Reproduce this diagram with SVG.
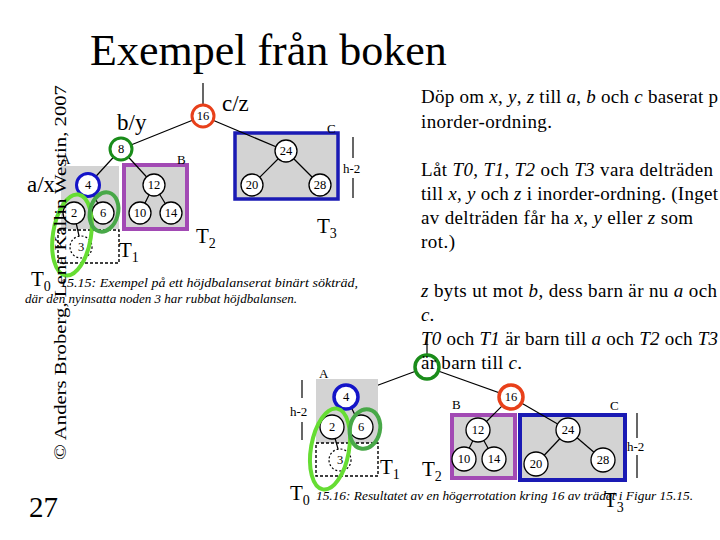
<svg xmlns="http://www.w3.org/2000/svg" width="720" height="540" viewBox="0 0 720 540">
<style>
.t{font-family:"Liberation Serif","Times New Roman",serif;fill:#000}
.n{font-family:"Liberation Serif","Times New Roman",serif;font-size:12.5px;text-anchor:middle;dominant-baseline:central}
.nd{fill:#fff;stroke:#000;stroke-width:1.3}
.box{fill:#d3d3d3;stroke:none}
.pbox{fill:#d3d3d3;stroke:#a24ab4;stroke-width:4}
.bbox{fill:#d3d3d3;stroke:#1a1ab4;stroke-width:4}
.e{stroke:#000;stroke-width:1.2;fill:none}
.dash{fill:none;stroke:#000;stroke-width:1.4;stroke-dasharray:3 2}
.cap{font-family:"Liberation Serif","Times New Roman",serif;font-style:italic;font-size:12.5px}
.body{font-family:"Liberation Serif","Times New Roman",serif;font-size:19px}
.i{font-style:italic}
.lab{font-family:"Liberation Serif","Times New Roman",serif;font-size:23px}
.T{font-family:"Liberation Serif","Times New Roman",serif;font-size:21px}
.sm{font-family:"Liberation Serif","Times New Roman",serif;font-size:13px}
</style>
<rect width="720" height="540" fill="#fff"/>
<text class="t" x="90" y="65" font-size="44">Exempel från boken</text>

<!-- upper figure boxes -->
<g id="upper-boxes">
<rect class="box" x="61" y="166" width="58" height="63"/>
<rect class="dash" x="58" y="230" width="61" height="33"/>
<rect class="pbox" x="124" y="165" width="63" height="64"/>
<rect class="bbox" x="235" y="133" width="103" height="66" style="stroke-width:3.5"/>
<text class="sm" x="61" y="164" font-size="12">A</text>
<text class="sm" x="177" y="164" font-size="12">B</text>
<text class="sm" x="327" y="133" font-size="14">C</text>
<text class="sm" x="343" y="173" font-size="14">h-2</text>
<line class="e" x1="353" y1="137" x2="353" y2="158" stroke-width="1"/>
<line class="e" x1="353" y1="178" x2="353" y2="198" stroke-width="1"/>
</g>

<g id="connectors">
<line class="e" x1="203" y1="83" x2="203" y2="105"/>
<line class="e" x1="203" y1="116" x2="121" y2="149"/>
<line class="e" x1="203" y1="116" x2="286" y2="151"/>
<line class="e" x1="121" y1="149" x2="88" y2="185"/>
<line class="e" x1="121" y1="149" x2="154" y2="185"/>
<line class="e" x1="88" y1="185" x2="103" y2="213"/>
<line class="e" x1="74" y1="213" x2="79" y2="236"/>
<line class="e" x1="154" y1="185" x2="140" y2="213"/>
<line class="e" x1="154" y1="185" x2="171" y2="213"/>
<line class="e" x1="286" y1="151" x2="252" y2="185"/>
<line class="e" x1="286" y1="151" x2="320" y2="185"/>
<!-- lower -->
<line class="e" x1="427" y1="335" x2="427" y2="355"/>
<line class="e" x1="427" y1="367" x2="346" y2="397"/>
<line class="e" x1="427" y1="367" x2="511" y2="397"/>
<line class="e" x1="346" y1="397" x2="332" y2="427"/>
</g>

<!-- upper nodes -->
<g id="u16"><circle cx="203" cy="116" r="11" fill="#fff" stroke="#e8401a" stroke-width="3"/><text class="n" x="203" y="116">16</text></g>
<g id="u8"><circle cx="121" cy="149" r="11" fill="#fff" stroke="#1a8c1a" stroke-width="3"/><text class="n" x="121" y="149">8</text></g>
<g id="u4"><circle cx="88" cy="185" r="11.5" fill="#fff" stroke="#1414c8" stroke-width="3"/><text class="n" x="88" y="185">4</text></g>
<g id="u2"><circle class="nd" cx="74" cy="213" r="11"/><text class="n" x="74" y="213">2</text></g>
<g id="u6"><circle class="nd" cx="103" cy="213" r="11"/><text class="n" x="103" y="213">6</text></g>
<g id="u3"><circle cx="81" cy="247" r="11" fill="none" stroke="#000" stroke-width="1.2" stroke-dasharray="2 2"/><text class="n" x="81" y="247">3</text></g>
<g id="u12"><circle class="nd" cx="154" cy="185" r="11"/><text class="n" x="154" y="185">12</text></g>
<g id="u10"><circle class="nd" cx="140" cy="213" r="11"/><text class="n" x="140" y="213">10</text></g>
<g id="u14"><circle class="nd" cx="171" cy="213" r="11"/><text class="n" x="171" y="213">14</text></g>
<g id="u24"><circle class="nd" cx="286" cy="151" r="11"/><text class="n" x="286" y="151">24</text></g>
<g id="u20"><circle class="nd" cx="252" cy="185" r="11"/><text class="n" x="252" y="185">20</text></g>
<g id="u28"><circle class="nd" cx="320" cy="185" r="11"/><text class="n" x="320" y="185">28</text></g>

<g id="upper-highlights">
<ellipse cx="72" cy="235" rx="19" ry="41" transform="rotate(9 72 235)" fill="none" stroke="#66dd33" stroke-width="4"/>
<ellipse cx="104" cy="212" rx="14" ry="20" transform="rotate(14 104 212)" fill="none" stroke="#48a848" stroke-width="4"/>
</g>

<text class="lab" x="222" y="111">c/z</text>
<text class="lab" x="117" y="130">b/y</text>
<text class="lab" x="27" y="192">a/x</text>
<text class="T" x="196" y="243">T<tspan font-size="14" dy="5">2</tspan></text>
<text class="T" x="119" y="257">T<tspan font-size="14" dy="5">1</tspan></text>
<text class="T" x="317" y="233">T<tspan font-size="14" dy="5">3</tspan></text>
<text class="T" x="31" y="286">T<tspan font-size="14" dy="5">0</tspan></text>
<text class="cap" x="60" y="287" textLength="298" lengthAdjust="spacingAndGlyphs">15.15: Exempel på ett höjdbalanserat binärt sökträd,</text>
<text class="cap" x="25" y="303" textLength="272" lengthAdjust="spacingAndGlyphs">där den nyinsatta noden 3 har rubbat höjdbalansen.</text>

<!-- lower figure -->
<g id="lower-boxes">
<rect class="box" x="316" y="379" width="62" height="64"/>
<rect class="dash" x="316" y="443" width="62" height="33"/>
<rect class="pbox" x="452" y="415" width="63" height="63"/>
<rect class="bbox" x="520" y="415" width="105" height="65"/>
<text class="sm" x="319" y="378" font-size="13">A</text>
<text class="sm" x="452" y="409" font-size="13">B</text>
<text class="sm" x="610" y="410" font-size="13">C</text>
<text class="sm" x="290" y="416" font-size="14">h-2</text>
<line class="e" x1="302" y1="380" x2="302" y2="398" stroke-width="1"/>
<line class="e" x1="302" y1="422" x2="302" y2="440" stroke-width="1"/>
<text class="sm" x="627" y="451" font-size="14">h-2</text>
<line class="e" x1="637" y1="413" x2="637" y2="438" stroke-width="1"/>
<line class="e" x1="637" y1="455" x2="637" y2="478" stroke-width="1"/>
</g>
<g id="connectors-lower">
<line class="e" x1="511" y1="397" x2="478" y2="430"/>
<line class="e" x1="511" y1="397" x2="568" y2="430"/>
<line class="e" x1="478" y1="430" x2="464" y2="459"/>
<line class="e" x1="478" y1="430" x2="494" y2="459"/>
<line class="e" x1="568" y1="430" x2="536" y2="464"/>
<line class="e" x1="568" y1="430" x2="603" y2="460"/>
<line class="e" x1="346" y1="397" x2="361" y2="427"/>
<line class="e" x1="332" y1="427" x2="338" y2="449"/>
</g>

<g id="l8"><circle cx="427" cy="367" r="12" fill="#fff" stroke="#1a8c1a" stroke-width="3.5"/></g>
<g id="l4"><circle cx="346" cy="397" r="12" fill="#fff" stroke="#1414c8" stroke-width="3.5"/><text class="n" x="346" y="397" font-size="14">4</text></g>
<g id="l2"><circle class="nd" cx="332" cy="427" r="12"/><text class="n" x="332" y="427" font-size="14">2</text></g>
<g id="l6"><circle class="nd" cx="361" cy="427" r="12"/><text class="n" x="361" y="427" font-size="14">6</text></g>
<g id="l3"><circle cx="340" cy="460" r="11" fill="none" stroke="#000" stroke-width="1.2" stroke-dasharray="2 2"/><text class="n" x="340" y="460" font-size="14">3</text></g>
<g id="l16"><circle cx="511" cy="397" r="12" fill="#fff" stroke="#e8401a" stroke-width="3.5"/><text class="n" x="511" y="397" font-size="14">16</text></g>
<g id="l12"><circle class="nd" cx="478" cy="430" r="12"/><text class="n" x="478" y="430" font-size="14">12</text></g>
<g id="l10"><circle class="nd" cx="464" cy="459" r="12"/><text class="n" x="464" y="459" font-size="14">10</text></g>
<g id="l14"><circle class="nd" cx="494" cy="459" r="12"/><text class="n" x="494" y="459" font-size="14">14</text></g>
<g id="l24"><circle class="nd" cx="568" cy="430" r="12"/><text class="n" x="568" y="430" font-size="14">24</text></g>
<g id="l20"><circle class="nd" cx="536" cy="464" r="12"/><text class="n" x="536" y="464" font-size="14">20</text></g>
<g id="l28"><circle class="nd" cx="603" cy="460" r="12"/><text class="n" x="603" y="460" font-size="14">28</text></g>

<g id="lower-highlights">
<ellipse cx="330" cy="449" rx="19" ry="41" transform="rotate(10 330 449)" fill="none" stroke="#66dd33" stroke-width="4"/>
<ellipse cx="365" cy="429" rx="15" ry="20" transform="rotate(12 365 429)" fill="none" stroke="#48a848" stroke-width="4"/>
</g>

<text class="T" x="380" y="474">T<tspan font-size="14" dy="5">1</tspan></text>
<text class="T" x="422" y="476">T<tspan font-size="14" dy="5">2</tspan></text>
<text class="T" x="290" y="500">T<tspan font-size="14" dy="5">0</tspan></text>
<text class="T" x="604" y="507">T<tspan font-size="14" dy="5">3</tspan></text>
<text class="cap" x="316" y="500" textLength="377" lengthAdjust="spacingAndGlyphs">15.16: Resultatet av en högerrotation kring 16 av trädet i Figur 15.15.</text>

<!-- right text -->
<text class="body" x="421" y="103" textLength="297">Döp om <tspan class="i">x</tspan>, <tspan class="i">y</tspan>, <tspan class="i">z</tspan> till <tspan class="i">a</tspan>, <tspan class="i">b</tspan> och <tspan class="i">c</tspan> baserat p</text>
<text class="body" x="421" y="128" textLength="131">inorder-ordning.</text>
<text class="body" x="421" y="176" textLength="292"><tspan>Låt </tspan><tspan class="i">T0</tspan>, <tspan class="i">T1</tspan>, <tspan class="i">T2</tspan> och <tspan class="i">T3</tspan> vara delträden</text>
<text class="body" x="421" y="200" textLength="297">till <tspan class="i">x</tspan>, <tspan class="i">y</tspan> och <tspan class="i">z</tspan> i inorder-ordning. (Inget</text>
<text class="body" x="421" y="224" textLength="272">av delträden får ha <tspan class="i">x</tspan>, <tspan class="i">y</tspan> eller <tspan class="i">z</tspan> som</text>
<text class="body" x="421" y="248" textLength="34">rot.)</text>
<text class="body" x="421" y="297" textLength="296"><tspan class="i">z</tspan> byts ut mot <tspan class="i">b</tspan>, dess barn är nu <tspan class="i">a</tspan> och</text>
<text class="body" x="421" y="321"><tspan class="i">c</tspan>.</text>
<text class="body" x="421" y="345" textLength="297"><tspan class="i">T0</tspan> och <tspan class="i">T1</tspan> är barn till <tspan class="i">a</tspan> och <tspan class="i">T2</tspan> och <tspan class="i">T3</tspan></text>
<text class="body" x="421" y="369" textLength="101">är barn till <tspan class="i">c</tspan>.</text>

<text class="t" x="60" y="460" font-size="17" fill="#1c3f78" textLength="375" lengthAdjust="spacingAndGlyphs" transform="rotate(-90 60 460)" dy="6">© Anders Broberg, Lena Kallin Westin, 2007</text>
<text class="t" x="29" y="517" font-size="29">27</text>
</svg>
